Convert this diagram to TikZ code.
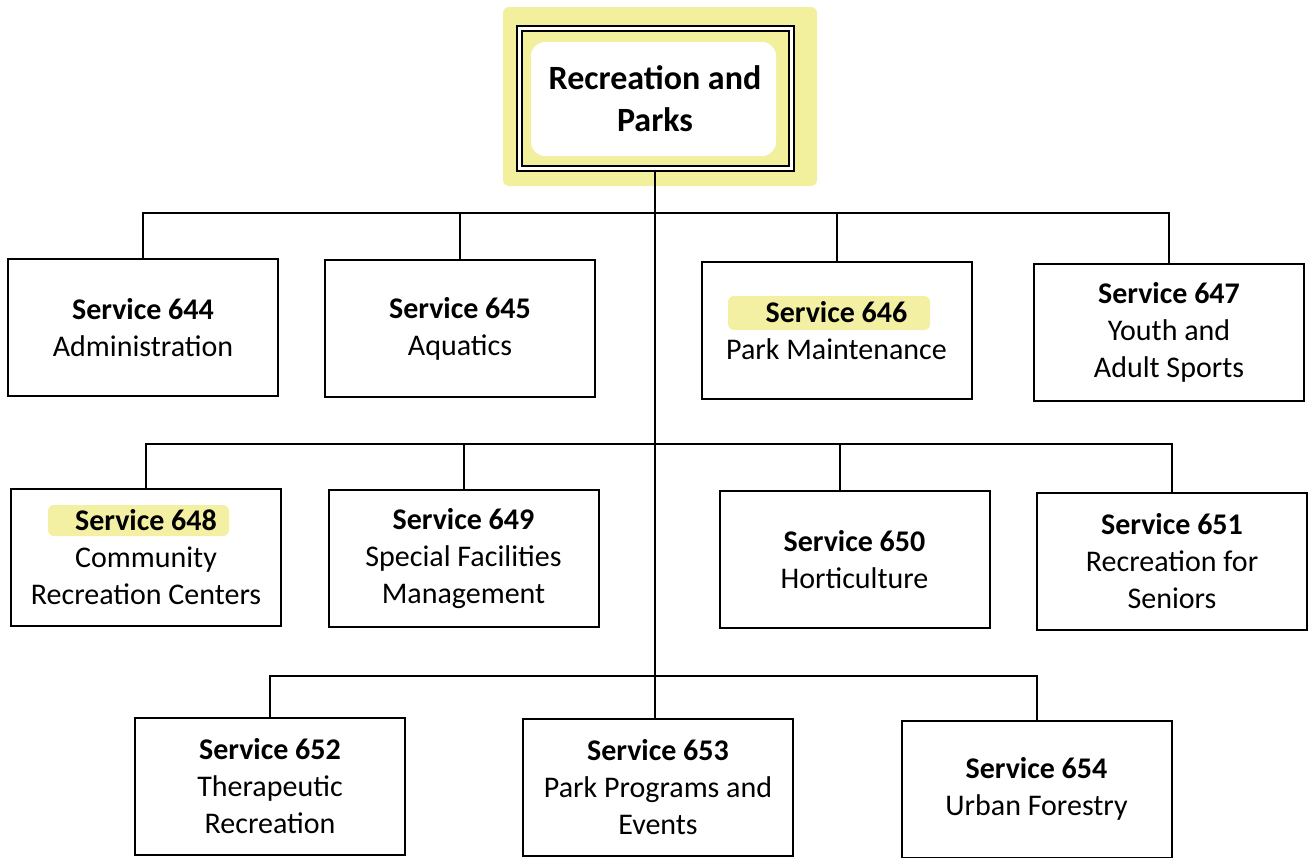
\documentclass[tikz,border=0pt]{standalone}
\usepackage{fontspec}
\setmainfont{Carlito}
\definecolor{marker}{RGB}{240,236,140}

\begin{document}
\begin{tikzpicture}[x=1pt,y=-1pt,line width=2pt,
        svc/.style={rectangle,draw,line width=2pt,minimum width=270pt,minimum height=137pt,
            inner sep=0pt,align=center,font=\fontsize{30}{37}\selectfont},
        head/.style={rectangle,draw,double,double distance=3pt,line width=2pt,minimum width=272pt,
            minimum height=140pt,inner sep=0pt,align=center,font=\fontsize{34}{42}\selectfont\bfseries},
        hl/.style={fill=marker,draw=none,rounded corners=6pt}]
        \useasboundingbox (0,0) rectangle (1309,857);
        % highlighter marks
        \fill[hl,opacity=.85] (503,7) rectangle (817,186);
        \fill[white,rounded corners=14pt] (531,42) rectangle (776,156);
        \fill[hl,opacity=.8] (728,296) rectangle (930,330);
        \fill[hl,opacity=.8] (48,505) rectangle (229,536);
        % boxes
        \node[head] (rp) at (655,98.5) {Recreation and\\Parks};
        \node[svc] (644) at (143,327.5) {\textbf{Service 644}\\Administration};
        \node[svc] (645) at (460,328.5) {\textbf{Service 645}\\Aquatics};
        \node[svc] (646) at (836.5,330.5) {\textbf{Service 646}\\Park Maintenance};
        \node[svc] (647) at (1169,332.5) {\textbf{Service 647}\\Youth and\\Adult Sports};
        \node[svc] (648) at (146,557) {\textbf{Service 648}\\Community\\Recreation Centers};
        \node[svc] (649) at (463.5,558.5) {\textbf{Service 649}\\Special Facilities\\Management};
        \node[svc] (650) at (854.5,559.5) {\textbf{Service 650}\\Horticulture};
        \node[svc] (651) at (1172,561) {\textbf{Service 651}\\Recreation for\\Seniors};
        \node[svc] (652) at (270,786) {\textbf{Service 652}\\Therapeutic\\Recreation};
        \node[svc] (653) at (658,787) {\textbf{Service 653}\\Park Programs and\\Events};
        \node[svc] (654) at (1036.5,789) {\textbf{Service 654}\\Urban Forestry};
        % bus lines
        \coordinate (bus1) at (0,213);
        \coordinate (bus2) at (0,444);
        \coordinate (bus3) at (0,676);
        \coordinate (d650) at ([xshift=-15pt]650.north);
        \draw (rp.south) -- (rp.south |- 653.north);
        \draw (644.north) |- (647.north |- bus1) -- (647.north);
        \draw (645.north) -- (645.north |- bus1);
        \draw (646.north) -- (646.north |- bus1);
        \draw (648.north) |- (651.north |- bus2) -- (651.north);
        \draw (649.north) -- (649.north |- bus2);
        \draw (d650) -- (d650 |- bus2);
        \draw (652.north) |- (654.north |- bus3) -- (654.north);
\end{tikzpicture}
\end{document}
